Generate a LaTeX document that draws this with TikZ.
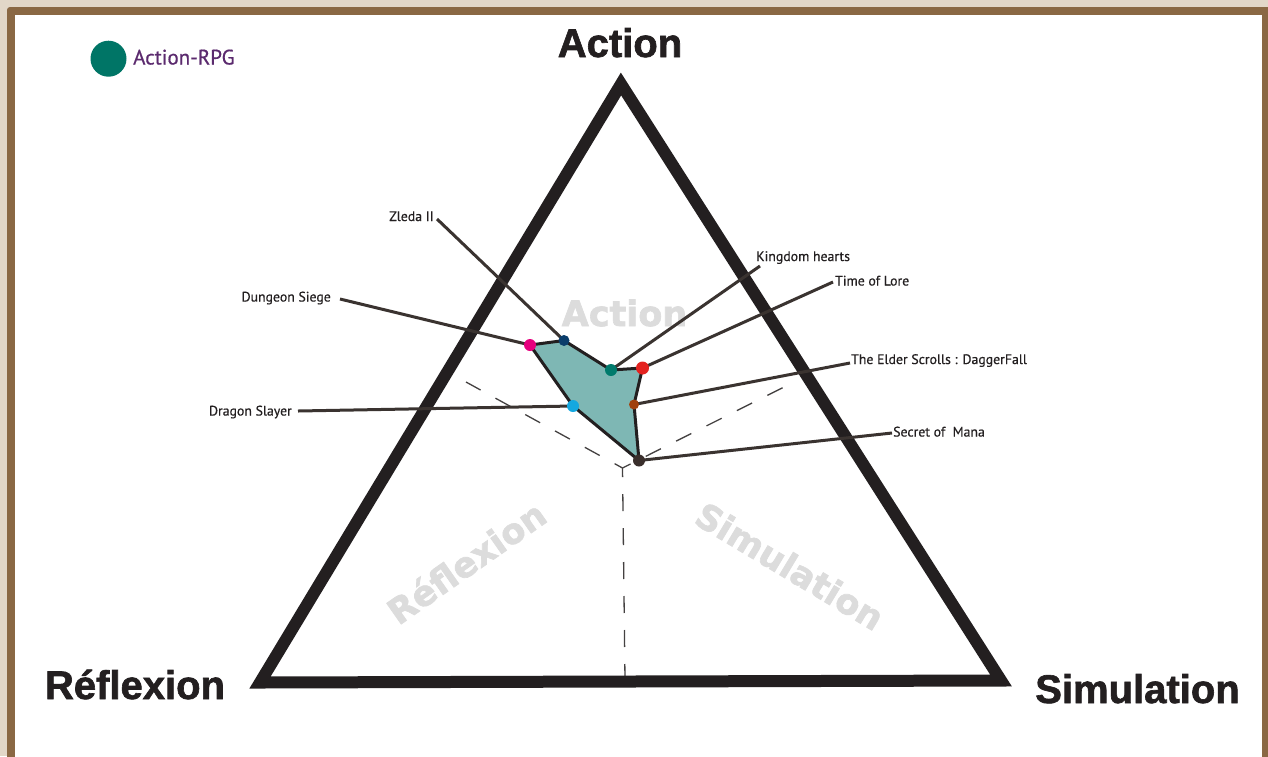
\documentclass[tikz,border=0pt]{standalone}
\usepackage{fontspec}
\setmainfont{PT Sans}[FakeBold=0.6]
\newfontfamily\gamefont{PT Sans}[FakeBold=0.5]
\newfontfamily\axisfont{Liberation Sans}[BoldFeatures={FakeBold=1.6}]
\newfontfamily\markfont{DejaVu Sans}[BoldFeatures={FakeBold=1.8}]

\definecolor{paper}{HTML}{E2D7C8}
\definecolor{framebrown}{HTML}{8A6844}
\definecolor{ink}{HTML}{231F20}
\definecolor{leadergray}{HTML}{3A3330}
\definecolor{zonefill}{HTML}{7EB7B4}
\definecolor{legendteal}{HTML}{007566}
\definecolor{legendpurple}{HTML}{5B2A6E}
\definecolor{watermark}{HTML}{DCDCDC}
\definecolor{cpink}{HTML}{E6007E}
\definecolor{cnavy}{HTML}{0B3D6B}
\definecolor{cteal}{HTML}{007A6C}
\definecolor{cred}{HTML}{E42320}
\definecolor{cbrown}{HTML}{A0410D}
\definecolor{cdark}{HTML}{3A2F2C}
\definecolor{csky}{HTML}{14A8E0}

\tikzset{
  axisline/.style={draw=ink, line width=12pt, line join=miter},
  guide/.style={draw=ink!85, line width=1.3pt, dash pattern=on 17pt off 17pt},
  zone/.style={fill=zonefill, draw=ink, line width=3pt, line join=round},
  leader/.style={draw=leadergray, line width=3pt},
  dot/.style={circle, inner sep=0pt, minimum size=12pt},
  gamelabel/.style={inner sep=0pt, anchor=base, text=ink, font=\gamefont\fontsize{13.8}{15}\selectfont},
  axislabel/.style={inner sep=0pt, anchor=base, text=ink, font=\axisfont\bfseries\fontsize{40}{44}\selectfont},
  marklabel/.style={inner sep=0pt, text=watermark, font=\markfont\bfseries\fontsize{35}{40}\selectfont},
}

\begin{document}
\begin{tikzpicture}[x=1pt, y=-1pt]
\useasboundingbox (0,0) rectangle (1268,756);

% page and frame
\fill[paper] (0,0) rectangle (1268,756);
\fill[framebrown, rounded corners=3pt] (7,7) rectangle (1290,780);
\fill[white] (15,15) rectangle (1261.5,780);

% legend
\node[circle, fill=legendteal, inner sep=0pt, minimum size=36pt] (legdot) at (108.5,58.7) {};
\node[anchor=base west, inner sep=0pt, text=legendpurple, font=\fontsize{21}{24}\selectfont] (legtext) at (133,64.5) {Action-RPG};

% watermarks inside the triangle
\node[marklabel] (wm-action) at (624.5,313) {Action};
\node[marklabel, rotate=35] (wm-reflexion) at (466,562) {Réflexion};
\node[marklabel, rotate=-31] (wm-simulation) at (790,566) {Simulation};

% centre of the triangle and dashed guides
\coordinate (centre) at (622.5,468);
\coordinate (g-left) at (466,382);
\coordinate (g-right) at (792,383);
\coordinate (g-bottom) at (625,680);
\draw[guide, dash phase=8pt] (centre) -- (g-left);
\draw[guide, dash phase=8pt] (centre) -- (g-right);
\draw[guide, dash phase=8pt] (centre) -- (g-bottom);

% triangle
\coordinate (v-action) at (621,84);
\coordinate (v-reflexion) at (260,682.5);
\coordinate (v-simulation) at (1001,680.5);
\draw[axisline] (v-action) -- (v-simulation) -- (v-reflexion) -- cycle;

% axis labels
\node[axislabel] (l-action) at (620,57) {Action};
\node[axislabel] (l-reflexion) at (135,699) {Réflexion};
\node[axislabel] (l-simulation) at (1137.5,703) {Simulation};

% game positions
\coordinate (p-dungeon) at (530,345);
\coordinate (p-zelda) at (564,340.5);
\coordinate (p-kingdom) at (611,370);
\coordinate (p-lore) at (642.5,368);
\coordinate (p-dagger) at (634,404.5);
\coordinate (p-mana) at (639,460.5);
\coordinate (p-dragon) at (573,406);

% area covered by the genre
\path[zone] (p-dungeon) -- (p-zelda) -- (p-kingdom) -- (p-lore) -- (p-dagger) -- (p-mana) -- (p-dragon) -- cycle;

% leader line ends
\coordinate (e-zelda) at (437,219);
\coordinate (e-dungeon) at (340,299);
\coordinate (e-dragon) at (298,411);
\coordinate (e-kingdom) at (760,266);
\coordinate (e-lore) at (833,282);
\coordinate (e-dagger) at (850,363);
\coordinate (e-mana) at (892,433);

\draw[leader] (e-zelda) -- (p-zelda);
\draw[leader] (e-dungeon) -- (p-dungeon);
\draw[leader] (e-dragon) -- (p-dragon);
\draw[leader] (e-kingdom) -- (p-kingdom);
\draw[leader] (e-lore) -- (p-lore);
\draw[leader] (e-dagger) -- (p-dagger);
\draw[leader] (e-mana) -- (p-mana);

% game dots
\node[dot, fill=cpink] (d-dungeon) at (p-dungeon) {};
\node[dot, fill=cnavy, minimum size=11pt] (d-zelda) at (p-zelda) {};
\node[dot, fill=cteal] (d-kingdom) at (p-kingdom) {};
\node[dot, fill=cred, minimum size=13pt] (d-lore) at (p-lore) {};
\node[dot, fill=cbrown, minimum size=10pt] (d-dagger) at (p-dagger) {};
\node[dot, fill=cdark] (d-mana) at (p-mana) {};
\node[dot, fill=csky] (d-dragon) at (p-dragon) {};

% game labels
\node[gamelabel, anchor=base east] (t-zelda) at (434,221) {Zleda II};
\node[gamelabel, anchor=base east] (t-dungeon) at (331,301.5) {Dungeon Siege};
\node[gamelabel, anchor=base east] (t-dragon) at (292,415.5) {Dragon Slayer};
\node[gamelabel, anchor=base west] (t-kingdom) at (756,261) {Kingdom hearts};
\node[gamelabel, anchor=base west] (t-lore) at (835,285.5) {Time of Lore};
\node[gamelabel, anchor=base west] (t-dagger) at (851,364) {The Elder Scrolls : DaggerFall};
\node[gamelabel, anchor=base west] (t-mana) at (893,436.5) {Secret of\ \ Mana};
\end{tikzpicture}
\end{document}
